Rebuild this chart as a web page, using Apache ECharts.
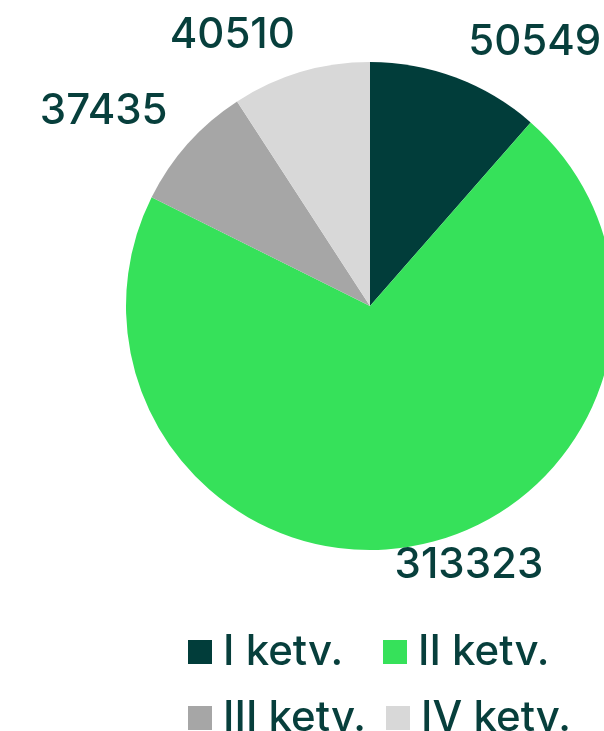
<!DOCTYPE html>
<html><head><meta charset="utf-8">
<script src="https://cdn.jsdelivr.net/npm/echarts@6/dist/echarts.min.js"></script>
<style>html,body{margin:0;padding:0;background:#fff}#c{width:604px;height:731px}</style>
</head><body><div id="c"></div>
<script>
const categories = ['I ketv.', 'II ketv.', 'III ketv.', 'IV ketv.'];
const values = [50549, 313323, 37435, 40510];
const colors = ['#013d3a', '#36e15a', '#a6a6a6', '#d8d8d8'];
const textColor = '#073f3c';
const labelShiftX = [-6, -35, 13, 10];
const labelShiftY = [0, -17, -7, 0];

const chart = echarts.init(document.getElementById('c'), null, {renderer: 'canvas'});
chart.setOption({
  animation: false,
  color: colors,
  legend: {
    data: categories,
    left: 188, top: 629, width: 400,
    padding: 0,
    orient: 'horizontal',
    itemWidth: 24, itemHeight: 24, itemGap: 20,
    icon: 'rect',
    formatter: '{a|{name}}',
    textStyle: {
      fontFamily: 'Inter', fontSize: 42, fontWeight: 500, color: textColor,
      rich: {a: {fontFamily: 'Inter', fontSize: 42, fontWeight: 500, color: textColor, width: 140, height: 46, lineHeight: 46, padding: [0, 0, 0, 6]}}
    }
  },
  series: [{
    type: 'pie',
    center: [370, 306],
    radius: 244,
    startAngle: 90,
    clockwise: true,
    avoidLabelOverlap: false,
    data: categories.map((c, i) => ({name: c, value: values[i]})),
    label: {show: true, position: 'outside', formatter: '{c}', fontFamily: 'Inter', fontSize: 42, fontWeight: 500, color: textColor},
    labelLine: {show: false, length: 38, length2: 0},
    labelLayout: function (p) { return {dx: labelShiftX[p.dataIndex], dy: labelShiftY[p.dataIndex]}; },
    itemStyle: {borderWidth: 0}
  }]
});
</script></body></html>
